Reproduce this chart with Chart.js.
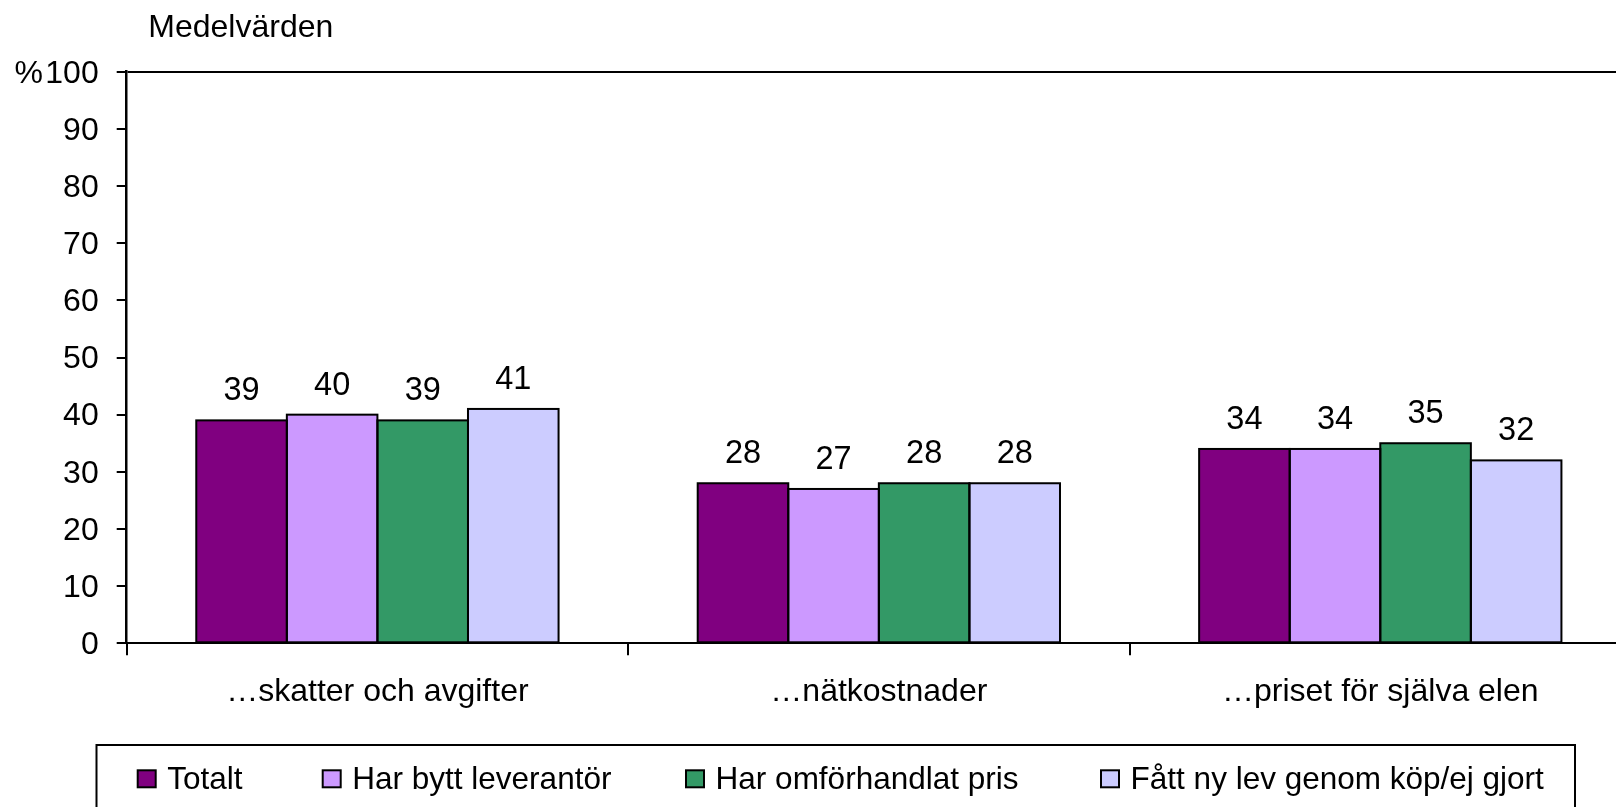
<!DOCTYPE html>
<html>
<head>
<meta charset="utf-8">
<script src="https://cdn.jsdelivr.net/npm/chart.js@4/dist/chart.umd.min.js"></script>
<style>
  html, body { margin: 0; padding: 0; background: #fff; overflow: hidden; }
  #wrap { width: 1650px; height: 807px; }
</style>
</head>
<body>
<div id="wrap"><canvas id="c" width="1650" height="807"></canvas></div>
<script>
// ---- data ----
const categories = ['…skatter och avgifter', '…nätkostnader', '…priset för själva elen'];
const seriesNames = ['Totalt', 'Har bytt leverantör', 'Har omförhandlat pris', 'Fått ny lev genom köp/ej gjort'];
const totalt = [39, 28, 34];
const byttLeverantor = [40, 27, 34];
const omforhandlatPris = [39, 28, 35];
const fattNyLev = [41, 28, 32];
const yTitle = 'Medelvärden';
const yUnit = '%';

// ---- styles ----
const seriesColors = ['#800080', '#CC99FF', '#339966', '#CCCCFF'];
const FONT = '"Liberation Sans", Arial, sans-serif';
const FS_TICK = 32;
const FS_LABEL = 32.5;
const FS_LEGEND = 31.5;
const FS_TITLE = 32;
const legendLayout = { left: 96.5, top: 745, right: 1575, markerX: [136.7, 321.7, 685, 1100], markerY: 769.3, markerW: 20, markerH: 19, textGap: 30.6, baseline: 789.3 };

const datasets = [totalt, byttLeverantor, omforhandlatPris, fattNyLev].map((d, i) => ({
  label: seriesNames[i],
  data: d,
  backgroundColor: seriesColors[i],
  borderWidth: 0,
  inflateAmount: 0,
  categoryPercentage: 0.7225,
  barPercentage: 1.0
}));

const decor = {
  id: 'decor',
  afterDatasetsDraw(chart) {
    const ctx = chart.ctx;
    ctx.save();
    chart.data.datasets.forEach((ds, di) => {
      const meta = chart.getDatasetMeta(di);
      meta.data.forEach((bar, i) => {
        const p = bar.getProps(['x', 'y', 'base', 'width'], true);
        ctx.strokeStyle = '#000';
        ctx.lineWidth = 2;
        ctx.strokeRect(p.x - p.width / 2, p.y, p.width, p.base - p.y);
        ctx.fillStyle = '#000';
        ctx.font = FS_LABEL + 'px ' + FONT;
        ctx.textAlign = 'center';
        ctx.textBaseline = 'alphabetic';
        ctx.fillText(String(ds.data[i]), p.x, p.y - 20);
      });
    });
    ctx.restore();
  },
  afterDraw(chart) {
    const ctx = chart.ctx;
    const ys = chart.scales.y;
    ctx.save();
    ctx.fillStyle = '#000';
    ctx.font = FS_TITLE + 'px ' + FONT;
    ctx.textAlign = 'left';
    ctx.textBaseline = 'alphabetic';
    ctx.fillText(yTitle, 148.3, 36.7);
    ctx.font = FS_TICK + 'px ' + FONT;
    ctx.textBaseline = 'middle';
    ctx.fillText(yUnit, 14.5, ys.getPixelForValue(100) + 2);
    ctx.strokeStyle = '#000';
    ctx.lineWidth = 2;
    ctx.strokeRect(legendLayout.left, legendLayout.top, legendLayout.right - legendLayout.left, 120);
    ctx.font = FS_LEGEND + 'px ' + FONT;
    chart.data.datasets.forEach((ds, i) => {
      const mx = legendLayout.markerX[i];
      ctx.fillStyle = ds.backgroundColor;
      ctx.fillRect(mx + 1, legendLayout.markerY + 1, legendLayout.markerW - 2, legendLayout.markerH - 2);
      ctx.strokeStyle = '#000';
      ctx.lineWidth = 2;
      ctx.strokeRect(mx + 1, legendLayout.markerY + 1, legendLayout.markerW - 2, legendLayout.markerH - 2);
      ctx.fillStyle = '#000';
      ctx.textBaseline = 'alphabetic';
      ctx.textAlign = 'left';
      ctx.fillText(ds.label, mx + legendLayout.textGap, legendLayout.baseline);
    });
    ctx.restore();
  }
};

new Chart(document.getElementById('c'), {
  type: 'bar',
  data: { labels: categories, datasets },
  options: {
    responsive: false,
    animation: false,
    devicePixelRatio: 1,
    layout: { padding: { left: 0, top: 71.7, right: 19, bottom: 63.7 } },
    plugins: { legend: { display: false }, tooltip: { enabled: false } },
    scales: {
      x: {
        offset: true,
        grid: { offset: true, drawOnChartArea: false, drawTicks: true, tickLength: 12, color: '#000', tickColor: '#000', lineWidth: 2, tickWidth: 2 },
        border: { display: true, color: '#000', width: 2 },
        ticks: { color: '#000', font: { family: FONT, size: FS_TICK }, padding: 18, maxRotation: 0, autoSkip: false },
        afterFit(scale) { scale.height = 100; }
      },
      y: {
        min: 0, max: 100,
        grid: {
          drawOnChartArea: true,
          color: (c) => (c.tick && c.tick.value === 100 ? '#000' : 'rgba(0,0,0,0)'),
          tickColor: '#000', lineWidth: 2, tickWidth: 2, tickLength: 10
        },
        border: { display: true, color: '#000', width: 2.5 },
        ticks: { stepSize: 10, color: '#000', font: { family: FONT, size: FS_TICK }, padding: 18, labelOffset: 2 },
        afterFit(scale) { scale.width = 126.7; }
      }
    }
  },
  plugins: [decor]
});
</script>
</body>
</html>
